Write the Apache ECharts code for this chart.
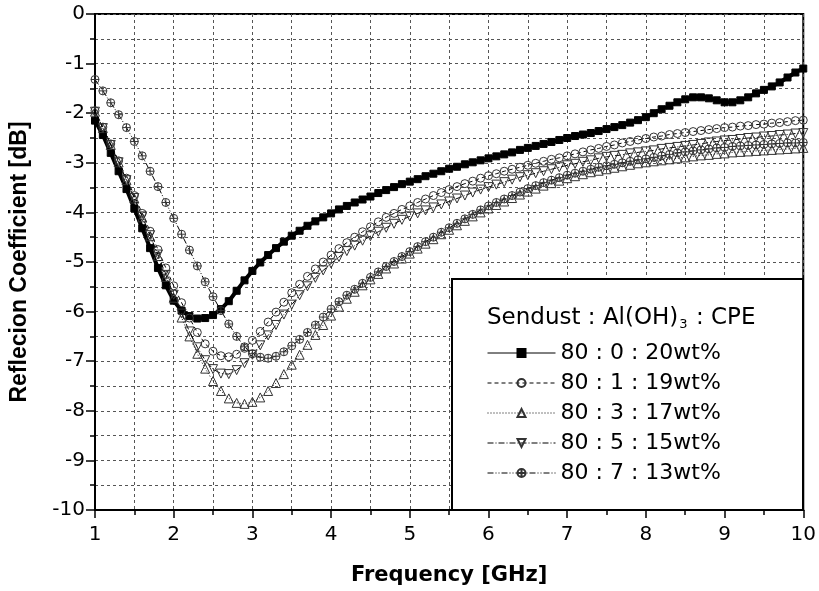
<!DOCTYPE html>
<html><head><meta charset="utf-8">
<script src="https://cdn.jsdelivr.net/npm/echarts@6/dist/echarts.min.js"></script>
<style>html,body{margin:0;padding:0;background:#fff}#c{width:819px;height:591px}</style>
</head><body><div id="c"></div>
<script>
const freq = [1.0,1.1,1.2,1.3,1.4,1.5,1.6,1.7,1.8,1.9,
2.0,2.1,2.2,2.3,2.4,2.5,2.6,2.7,2.8,2.9,
3.0,3.1,3.2,3.3,3.4,3.5,3.6,3.7,3.8,3.9,
4.0,4.1,4.2,4.3,4.4,4.5,4.6,4.7,4.8,4.9,
5.0,5.1,5.2,5.3,5.4,5.5,5.6,5.7,5.8,5.9,
6.0,6.1,6.2,6.3,6.4,6.5,6.6,6.7,6.8,6.9,
7.0,7.1,7.2,7.3,7.4,7.5,7.6,7.7,7.8,7.9,
8.0,8.1,8.2,8.3,8.4,8.5,8.6,8.7,8.8,8.9,
9.0,9.1,9.2,9.3,9.4,9.5,9.6,9.7,9.8,9.9,10.0];

const rc_80_0_20 = [-2.15,-2.44,-2.80,-3.17,-3.53,-3.92,-4.32,-4.72,-5.12,-5.47,
-5.78,-5.98,-6.09,-6.14,-6.13,-6.07,-5.95,-5.79,-5.58,-5.37,
-5.18,-5.01,-4.86,-4.72,-4.59,-4.47,-4.37,-4.27,-4.18,-4.10,
-4.02,-3.94,-3.87,-3.80,-3.74,-3.68,-3.61,-3.55,-3.49,-3.43,
-3.38,-3.33,-3.27,-3.22,-3.17,-3.12,-3.08,-3.03,-2.99,-2.95,
-2.91,-2.87,-2.83,-2.79,-2.74,-2.70,-2.66,-2.62,-2.58,-2.54,
-2.50,-2.46,-2.43,-2.40,-2.36,-2.32,-2.28,-2.24,-2.19,-2.14,
-2.08,-2.00,-1.92,-1.85,-1.78,-1.72,-1.68,-1.68,-1.70,-1.74,
-1.78,-1.78,-1.74,-1.68,-1.60,-1.53,-1.46,-1.38,-1.28,-1.18,-1.10];

const rc_80_1_19 = [-1.95,-2.28,-2.62,-2.96,-3.31,-3.66,-4.02,-4.38,-4.75,-5.12,
-5.48,-5.82,-6.13,-6.42,-6.65,-6.80,-6.89,-6.91,-6.86,-6.74,
-6.58,-6.40,-6.21,-6.01,-5.81,-5.62,-5.45,-5.29,-5.14,-5.00,
-4.86,-4.73,-4.61,-4.50,-4.39,-4.29,-4.19,-4.10,-4.02,-3.94,
-3.87,-3.80,-3.73,-3.66,-3.60,-3.54,-3.48,-3.42,-3.37,-3.31,
-3.26,-3.22,-3.17,-3.13,-3.09,-3.05,-3.01,-2.97,-2.93,-2.90,
-2.86,-2.82,-2.78,-2.74,-2.71,-2.67,-2.64,-2.60,-2.57,-2.54,
-2.51,-2.48,-2.46,-2.43,-2.41,-2.39,-2.37,-2.35,-2.33,-2.31,
-2.29,-2.28,-2.26,-2.25,-2.23,-2.22,-2.20,-2.19,-2.17,-2.15,-2.14];

const rc_80_3_17 = [-1.97,-2.30,-2.64,-2.99,-3.35,-3.72,-4.10,-4.48,-4.88,-5.30,
-5.72,-6.12,-6.50,-6.85,-7.15,-7.40,-7.60,-7.75,-7.84,-7.86,
-7.82,-7.73,-7.60,-7.44,-7.26,-7.07,-6.87,-6.67,-6.47,-6.27,
-6.08,-5.90,-5.74,-5.60,-5.47,-5.35,-5.24,-5.13,-5.03,-4.93,
-4.83,-4.73,-4.63,-4.54,-4.44,-4.35,-4.26,-4.17,-4.08,-4.00,
-3.92,-3.85,-3.78,-3.71,-3.64,-3.58,-3.52,-3.46,-3.41,-3.36,
-3.31,-3.27,-3.23,-3.19,-3.16,-3.13,-3.10,-3.07,-3.04,-3.01,
-2.99,-2.97,-2.95,-2.93,-2.91,-2.89,-2.87,-2.85,-2.84,-2.82,
-2.81,-2.79,-2.78,-2.77,-2.76,-2.75,-2.74,-2.73,-2.72,-2.71,-2.70];

const rc_80_5_15 = [-1.97,-2.30,-2.64,-2.99,-3.35,-3.71,-4.08,-4.46,-4.85,-5.26,
-5.66,-6.04,-6.40,-6.72,-6.98,-7.16,-7.25,-7.26,-7.18,-7.04,
-6.87,-6.68,-6.48,-6.27,-6.06,-5.86,-5.67,-5.49,-5.32,-5.17,
-5.03,-4.90,-4.78,-4.67,-4.57,-4.48,-4.39,-4.31,-4.23,-4.15,
-4.08,-4.02,-3.96,-3.90,-3.84,-3.78,-3.72,-3.66,-3.60,-3.54,
-3.49,-3.44,-3.39,-3.34,-3.29,-3.25,-3.21,-3.17,-3.13,-3.09,
-3.05,-3.02,-2.98,-2.95,-2.91,-2.88,-2.86,-2.84,-2.81,-2.79,
-2.77,-2.75,-2.72,-2.70,-2.68,-2.66,-2.64,-2.62,-2.59,-2.57,
-2.55,-2.54,-2.52,-2.50,-2.49,-2.47,-2.46,-2.44,-2.43,-2.41,-2.40];

const rc_80_7_13 = [-1.32,-1.55,-1.79,-2.03,-2.29,-2.57,-2.86,-3.17,-3.48,-3.80,
-4.12,-4.44,-4.76,-5.08,-5.40,-5.70,-5.98,-6.25,-6.50,-6.71,
-6.85,-6.92,-6.94,-6.90,-6.81,-6.69,-6.56,-6.42,-6.27,-6.11,
-5.95,-5.80,-5.67,-5.55,-5.43,-5.31,-5.20,-5.09,-4.99,-4.89,
-4.79,-4.69,-4.59,-4.50,-4.40,-4.31,-4.22,-4.13,-4.04,-3.95,
-3.87,-3.80,-3.73,-3.66,-3.59,-3.52,-3.46,-3.40,-3.35,-3.30,
-3.25,-3.21,-3.17,-3.13,-3.09,-3.06,-3.03,-3.00,-2.97,-2.94,
-2.92,-2.89,-2.86,-2.83,-2.80,-2.78,-2.76,-2.74,-2.72,-2.70,
-2.69,-2.67,-2.66,-2.65,-2.64,-2.63,-2.62,-2.61,-2.60,-2.60,-2.59];

const seriesNames = ['80 : 0 : 20wt%','80 : 1 : 19wt%','80 : 3 : 17wt%','80 : 5 : 15wt%','80 : 7 : 13wt%'];
const seriesValues = [rc_80_0_20, rc_80_1_19, rc_80_3_17, rc_80_5_15, rc_80_7_13];
const legendTitle = ['Sendust : Al(OH)', '3', ' : CPE'];
const xName = 'Frequency [GHz]';
const yName = 'Reflecion Coefficient [dB]';

const FONT = '"Liberation Sans", Arial, sans-serif';
const WIDE = '"DejaVu Sans", "Liberation Sans", sans-serif';
const dashes = [null, [4,3], [1,2], [6,2,1,2], [6,2,1,2,1,2]];
const crossCircle = 'path://M10,0A10,10,0,1,1,10,20A10,10,0,1,1,10,0ZM10,0L10,20M0,10L20,10';
const symbols = ['rect','circle','triangle','triangle',crossCircle];
const rotates = [0,0,0,180,0];
const sizes = [7,8,9,9,8];

const series = seriesValues.map((vals, k) => ({
  name: seriesNames[k],
  type: 'line',
  data: freq.map((f, i) => [f, vals[i]]),
  symbol: symbols[k],
  symbolRotate: rotates[k],
  symbolSize: sizes[k],
  showAllSymbol: true,
  smooth: false,
  animation: false,
  lineStyle: { color: '#000', width: k === 0 ? 4 : 1, type: dashes[k] || 'solid' },
  itemStyle: k === 0 ? { color: '#000', borderColor: '#000', borderWidth: 1 }
                     : { color: 'rgba(255,255,255,0)', borderColor: '#333', borderWidth: 1 },
  z: 2 + k
}));

const gridLine = { show: true, lineStyle: { color: '#555', width: 1, type: [3,3] } };

const chart = echarts.init(document.getElementById('c'), null, { renderer: 'canvas' });
chart.setOption({
  backgroundColor: '#fff',
  animation: false,
  textStyle: { fontFamily: FONT },
  grid: { left: 95, right: 13, top: 14, bottom: 80, show: true, borderColor: '#000', borderWidth: 2, backgroundColor: 'rgba(0,0,0,0)' },
  xAxis: {
    type: 'value', min: 1, max: 10, interval: 1,
    axisLine: { show: true, onZero: false, lineStyle: { color: '#000', width: 2 } },
    axisTick: { show: true, length: 8, lineStyle: { color: '#000', width: 1.5 } },
    minorTick: { show: true, splitNumber: 2, length: 5, lineStyle: { color: '#000', width: 1.5 } },
    splitLine: gridLine, minorSplitLine: gridLine,
    axisLabel: { fontSize: 20, color: '#000', margin: 15, fontFamily: WIDE },
    name: xName, nameLocation: 'middle', nameGap: 55,
    nameTextStyle: { fontSize: 21, fontWeight: 'bold', color: '#000', fontFamily: WIDE }
  },
  yAxis: {
    type: 'value', min: -10, max: 0, interval: 1,
    axisLine: { show: true, onZero: false, lineStyle: { color: '#000', width: 2 } },
    axisTick: { show: true, length: 9, lineStyle: { color: '#000', width: 1.5 } },
    minorTick: { show: true, splitNumber: 2, length: 5, lineStyle: { color: '#000', width: 1.5 } },
    splitLine: gridLine, minorSplitLine: gridLine,
    axisLabel: { fontSize: 20, color: '#000', margin: 10, fontFamily: WIDE },
    name: yName, nameLocation: 'middle', nameGap: 64, nameRotate: 90,
    nameTextStyle: { fontSize: 23, fontWeight: 'bold', color: '#000', fontFamily: FONT }
  },
  legend: {
    show: true, orient: 'vertical', left: 487, top: 342, padding: 0,
    itemWidth: 68, itemHeight: 10, itemGap: 8,
    data: seriesNames,
    lineStyle: { width: 1 },
    textStyle: { fontSize: 22, lineHeight: 22, color: '#000', fontFamily: WIDE },
    z: 10
  },
  graphic: [
    { type: 'rect', z: 8, shape: { x: 452, y: 279, width: 351, height: 231 },
      style: { fill: '#fff', stroke: '#000', lineWidth: 2 } },
    { type: 'text', z: 9, x: 487, y: 307,
      style: {
        text: '{a|' + legendTitle[0] + '}{s|' + legendTitle[1] + '}{a|' + legendTitle[2] + '}',
        rich: {
          a: { fontSize: 23, fontFamily: WIDE, fill: '#000', lineHeight: 24, verticalAlign: 'top' },
          s: { fontSize: 13, fontFamily: WIDE, fill: '#000', lineHeight: 10, verticalAlign: 'bottom', padding: [30, 1, 0, 1] }
        }
      } }
  ],
  series: series
});
</script></body></html>
